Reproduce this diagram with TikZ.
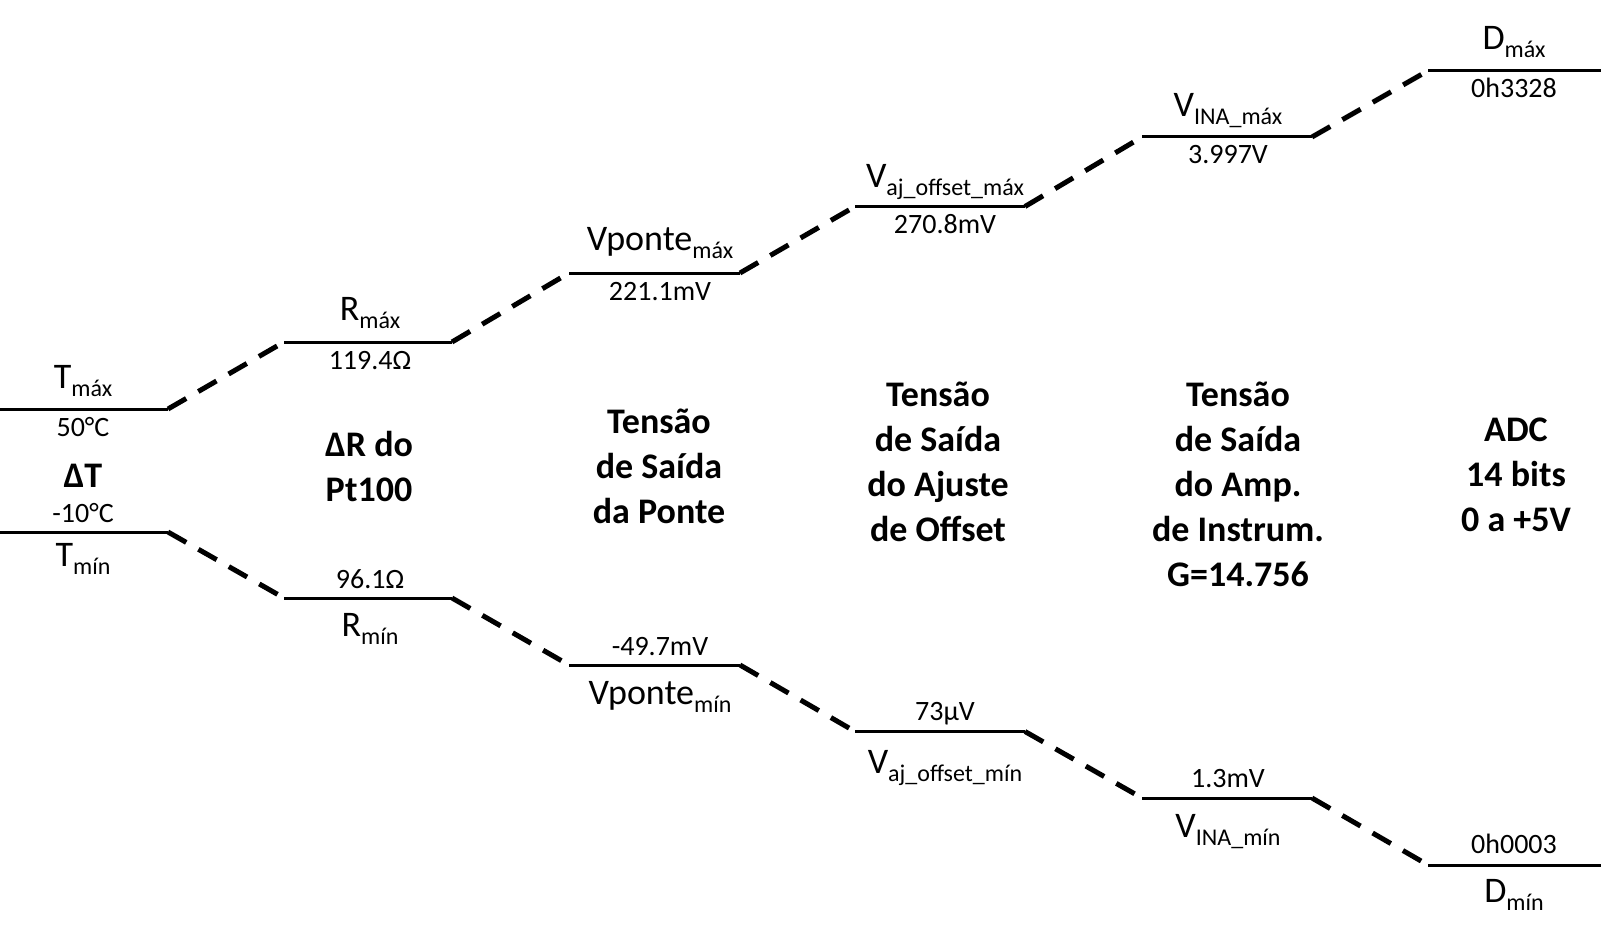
\documentclass[tikz,border=0pt]{standalone}
\usepackage{fontspec}
\setmainfont{Carlito}
\newcommand\lsub[1]{\raisebox{-8pt}{\fontsize{24}{24}\selectfont #1}}
\begin{document}
\begin{tikzpicture}[x=1pt,y=-1pt,
  level/.style={line width=3pt},
  conn/.style={line width=5pt, dash pattern=on 21pt off 14pt},
  nm/.style={anchor=base, inner sep=0pt, font=\fontsize{36}{44}\selectfont},
  val/.style={anchor=base, inner sep=0pt, font=\fontsize{28}{34}\selectfont},
  blab/.style={anchor=base, inner sep=0pt, align=center, font=\fontsize{36}{45}\selectfont\bfseries}]
\useasboundingbox (0,0) rectangle (1601,936);
% level end points
\coordinate (Tmaxa) at (0,409);    \coordinate (Tmaxb) at (168,409);
\coordinate (Tmina) at (0,532);    \coordinate (Tminb) at (168,532);
\coordinate (Rmaxa) at (284,342);  \coordinate (Rmaxb) at (452,342);
\coordinate (Rmina) at (284,598);  \coordinate (Rminb) at (452,598);
\coordinate (Vmaxa) at (569,273);  \coordinate (Vmaxb) at (740,273);
\coordinate (Vmina) at (569,665);  \coordinate (Vminb) at (740,665);
\coordinate (Amaxa) at (855,206.5);\coordinate (Amaxb) at (1025,206.5);
\coordinate (Amina) at (855,731.5);\coordinate (Aminb) at (1025,731.5);
\coordinate (Imaxa) at (1142,137); \coordinate (Imaxb) at (1312,137);
\coordinate (Imina) at (1142,798); \coordinate (Iminb) at (1312,798);
\coordinate (Dmaxa) at (1428,70.7);\coordinate (Dmaxb) at (1601,70.7);
\coordinate (Dmina) at (1428,865); \coordinate (Dminb) at (1601,865);
% levels
\foreach \p in {Tmax,Tmin,Rmax,Rmin,Vmax,Vmin,Amax,Amin,Imax,Imin,Dmax,Dmin}
  \draw[level] (\p a) -- (\p b);
% connectors
\draw[conn] (Tmaxb) -- (Rmaxa);
\draw[conn] (Rmaxb) -- (Vmaxa);
\draw[conn] (Vmaxb) -- (Amaxa);
\draw[conn] (Amaxb) -- (Imaxa);
\draw[conn] (Imaxb) -- (Dmaxa);
\draw[conn] (Tminb) -- (Rmina);
\draw[conn] (Rminb) -- (Vmina);
\draw[conn] (Vminb) -- (Amina);
\draw[conn] (Aminb) -- (Imina);
\draw[conn] (Iminb) -- (Dmina);
% max labels
\node[nm]  (lTmax) at (83,388)   {T\lsub{máx}};
\node[val] (vTmax) at (83,436)   {50°C};
\node[nm]  (lRmax) at (370,320)  {R\lsub{máx}};
\node[val] (vRmax) at (370,369)  {119.4Ω};
\node[nm]  (lVmax) at (660,251)  {Vponte\lsub{máx}};
\node[val] (vVmax) at (660,300)  {221.1mV};
\node[nm]  (lAmax) at (945,187.5){V\lsub{aj\_offset\_máx}};
\node[val] (vAmax) at (945,233.5){270.8mV};
\node[nm]  (lImax) at (1228,117) {V\lsub{INA\_máx}};
\node[val] (vImax) at (1228,164) {3.997V};
\node[nm]  (lDmax) at (1514,49.7){D\lsub{máx}};
\node[val] (vDmax) at (1514,97.7){0h3328};
% min labels
\node[val] (vTmin) at (83,522)   {-10°C};
\node[nm]  (lTmin) at (83,566)   {T\lsub{mín}};
\node[val] (vRmin) at (370,588)  {96.1Ω};
\node[nm]  (lRmin) at (370,636)  {R\lsub{mín}};
\node[val] (vVmin) at (660,655)  {-49.7mV};
\node[nm]  (lVmin) at (660,704)  {Vponte\lsub{mín}};
\node[val] (vAmin) at (945,720.5){73µV};
\node[nm]  (lAmin) at (945,773)  {V\lsub{aj\_offset\_mín}};
\node[val] (vImin) at (1228,787) {1.3mV};
\node[nm]  (lImin) at (1228,837) {V\lsub{INA\_mín}};
\node[val] (vDmin) at (1514,853) {0h0003};
\node[nm]  (lDmin) at (1514,902) {D\lsub{mín}};
% stage titles (anchor = baseline of last line)
\node[blab] (sT) at (83,487)   {ΔT};
\node[blab] (sR) at (369,501)  {ΔR do\\Pt100};
\node[blab] (sV) at (659,523)  {Tensão\\de Saída\\da Ponte};
\node[blab] (sA) at (938,541)  {Tensão\\de Saída\\do Ajuste\\de Offset};
\node[blab] (sI) at (1238,586) {Tensão\\de Saída\\do Amp.\\de Instrum.\\G=14.756};
\node[blab] (sD) at (1516,531) {ADC\\14 bits\\0 a +5V};
\end{tikzpicture}
\end{document}
